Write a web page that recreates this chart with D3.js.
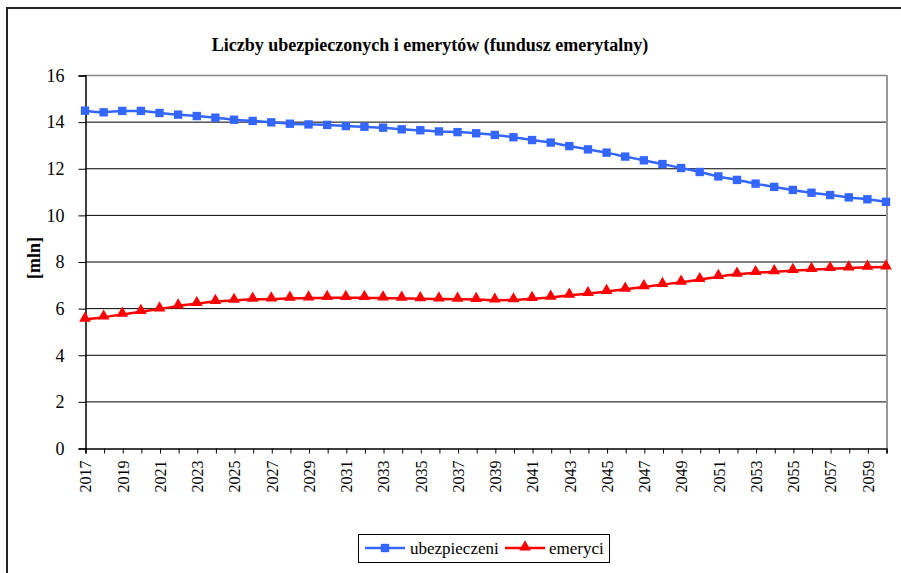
<!DOCTYPE html>
<html><head><meta charset="utf-8">
<script src="https://cdn.jsdelivr.net/npm/d3@7"></script>
<style>html,body{margin:0;padding:0;background:#fff;}svg{display:block;}
svg text{font-family:"Liberation Serif","Times New Roman",Times,"DejaVu Serif",serif;}</style>
</head><body>
<svg id="chart" width="901" height="573"></svg>
<script>
const years = d3.range(2017, 2061);
const ubezpieczeni = [14.47,14.40,14.46,14.46,14.37,14.30,14.24,14.17,14.08,14.03,13.97,13.91,13.88,13.86,13.81,13.78,13.74,13.67,13.63,13.58,13.55,13.50,13.43,13.33,13.21,13.10,12.95,12.81,12.67,12.50,12.34,12.18,12.01,11.84,11.65,11.50,11.34,11.20,11.07,10.95,10.85,10.75,10.67,10.56];
const emeryci = [5.52,5.61,5.73,5.85,5.96,6.09,6.19,6.28,6.33,6.38,6.39,6.42,6.43,6.45,6.45,6.45,6.43,6.42,6.40,6.39,6.38,6.37,6.34,6.35,6.41,6.46,6.55,6.62,6.71,6.81,6.91,7.01,7.11,7.22,7.35,7.45,7.52,7.56,7.61,7.65,7.69,7.72,7.75,7.76];
const yTicks = [0,2,4,6,8,10,12,14,16];
const xLabels = years.filter((y,i) => i % 2 === 0);
const title = "Liczby ubezpieczonych i emerytów (fundusz emerytalny)";
const yTitle = "[mln]";
const seriesNames = ["ubezpieczeni","emeryci"];
const colors = ["#3366FF","#FF0000"];

const svg = d3.select("#chart");
const L = 85, R = 886, T = 75, B = 448;

// outer border
svg.append("rect").attr("x",7).attr("y",8).attr("width",1000).attr("height",1000)
  .attr("fill","none").attr("stroke","#222").attr("stroke-width",2);

const x = d3.scalePoint().domain(years).range([L, R]);
const y = d3.scaleLinear().domain([0,16]).range([B, T]);

// gridlines
svg.append("g").selectAll("line").data(yTicks.filter(d => d>0 && d<16)).join("line")
  .attr("x1",L).attr("x2",R).attr("y1",d=>y(d)+0.5).attr("y2",d=>y(d)+0.5)
  .attr("stroke","#000").attr("stroke-width",1);
// plot border top/right
svg.append("line").attr("x1",L).attr("x2",R+1).attr("y1",T+0.5).attr("y2",T+0.5).attr("stroke","#888").attr("stroke-width",1.5);
svg.append("line").attr("x1",R+1).attr("x2",R+1).attr("y1",T).attr("y2",B).attr("stroke","#999").attr("stroke-width",2);

// y axis
const yAxis = d3.axisLeft(y).tickValues(yTicks).tickSize(7).tickPadding(14);
const gy = svg.append("g").attr("transform",`translate(${L+0.5},0.5)`).call(yAxis);
gy.attr("font-family",null);
gy.select(".domain").attr("stroke","#000").attr("stroke-width",1.5);
gy.selectAll(".tick line").attr("stroke","#000");
gy.selectAll("text").style("font-size","18px").attr("fill","#000");

// x axis
const xAxis = d3.axisBottom(x).tickSize(5).tickFormat(d => xLabels.includes(d) ? d : "");
const gx = svg.append("g").attr("transform",`translate(0.5,${B+0.5})`).call(xAxis);
gx.attr("font-family",null);
gx.select(".domain").attr("stroke","#000").attr("stroke-width",1.5);
gx.selectAll(".tick line").attr("stroke","#000");
gx.selectAll("text").style("font-size","16px").attr("fill","#000")
  .attr("transform","rotate(-90)").attr("text-anchor","end").attr("x",-12).attr("y",0).attr("dy","0.33em");

// titles
svg.append("text").attr("x",430).attr("y",51).attr("text-anchor","middle")
  .style("font-weight","bold").style("font-size","18px").text(title);
svg.append("text").attr("transform","translate(40,258) rotate(-90)").attr("text-anchor","middle")
  .style("font-weight","bold").style("font-size","18px").text(yTitle);

// lines
const line = d3.line().x((d,i)=>x(years[i])).y(d=>y(d)).curve(d3.curveMonotoneX);
[ubezpieczeni, emeryci].forEach((s,k)=>{
  svg.append("path").datum(s).attr("d",line).attr("fill","none").attr("stroke",colors[k]).attr("stroke-width",2.5);
});
const sq = d3.symbol().type(d3.symbolSquare).size(70);
const tri = d3.symbol().type(d3.symbolTriangle).size(60);
svg.append("g").selectAll("path").data(ubezpieczeni).join("path")
  .attr("transform",(d,i)=>`translate(${x(years[i])},${y(d)})`).attr("d",sq).attr("fill",colors[0]);
svg.append("g").selectAll("path").data(emeryci).join("path")
  .attr("transform",(d,i)=>`translate(${x(years[i])},${y(d)-1})`).attr("d",tri).attr("fill",colors[1]);

// legend
const lg = svg.append("g");
lg.append("rect").attr("x",358.5).attr("y",534.5).attr("width",251).attr("height",28).attr("fill","#fff").attr("stroke","#000");
const items = [{x:365, tx:410, sym:sq}, {x:505, tx:549, sym:tri}];
items.forEach((it,k)=>{
  lg.append("line").attr("x1",it.x).attr("x2",it.x+40).attr("y1",548).attr("y2",548).attr("stroke",colors[k]).attr("stroke-width",2.5);
  lg.append("path").attr("transform",`translate(${it.x+20},${k?547:548})`).attr("d",it.sym).attr("fill",colors[k]);
  lg.append("text").attr("x",it.tx).attr("y",554).style("font-size","17px").text(seriesNames[k]);
});
</script>
</body></html>
